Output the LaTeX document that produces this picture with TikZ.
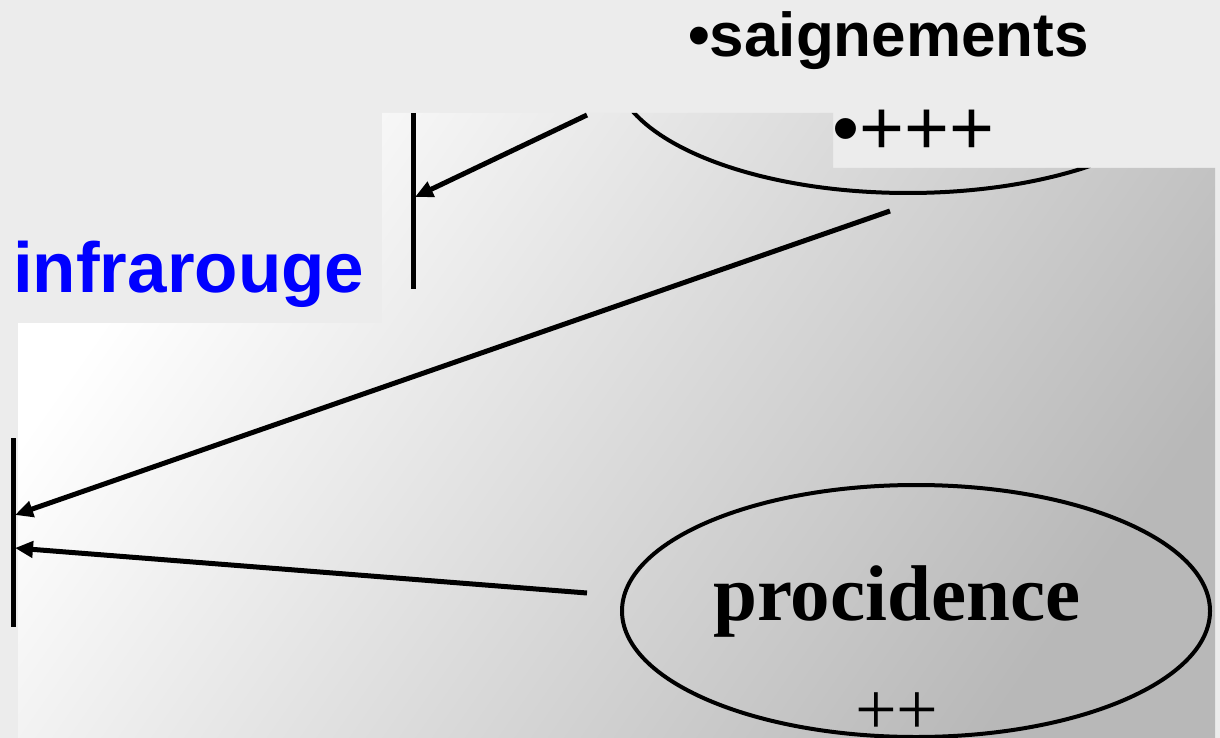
\documentclass[tikz,border=0pt]{standalone}
\usepackage{fontspec}
\newfontfamily\sansfnt{Liberation Sans}
\newfontfamily\seriffnt{Liberation Serif}
\usetikzlibrary{arrows.meta,shapes.geometric}
\definecolor{bg}{HTML}{ECECEC}
\definecolor{shlr}{HTML}{B8B8B8}
\definecolor{irblue}{HTML}{0000FF}
\tikzset{
  bar/.style={line width=5pt},
  conn/.style={line width=5pt,-{Triangle[length=18pt,width=16pt]}},
  oval/.style={draw,ellipse,line width=4pt,inner sep=0pt,minimum width=588pt,minimum height=252pt},
  lbl/.style={anchor=base west,inner sep=0pt},
}
\begin{document}
\begin{tikzpicture}[x=1pt,y=-1pt]
\useasboundingbox (0,0) rectangle (1220,738);
\fill[bg] (0,0) rectangle (1220,738);
\begin{scope}
  \clip (382,113) -- (833,113) -- (833,168) -- (1215,168) -- (1215,738) -- (18,738) -- (18,323) -- (382,323) -- cycle;
  \shade[left color=white, right color=shlr, shading angle=55] (18,113) rectangle (1215,738);
  \node[oval] (top) at (908,67) {};
\end{scope}
\node[oval] (proc) at (916,611) {};
% texts
\node[lbl,text=irblue,font=\sansfnt\bfseries\fontsize{71}{80}\selectfont] (infra) at (13,292) {infrarouge};
\node[lbl,font=\sansfnt\bfseries\fontsize{62}{70}\selectfont] (saig) at (688,57) {•saignements};
\node[lbl,font=\sansfnt\fontsize{77}{86}\selectfont] (ppp) at (832,155) {•+++};
\node[lbl,font=\seriffnt\bfseries\fontsize{79}{88}\selectfont] (proctext) at (713,620) {procidence};
\node[lbl,font=\seriffnt\fontsize{74}{82}\selectfont] (pp) at (855,734) {++};
% bars
\coordinate (b1t) at (413,113);
\coordinate (b1b) at (413,289);
\coordinate (b2t) at (13,438);
\coordinate (b2b) at (13,627);
\draw[bar] (b1t) -- (b1b);
\draw[bar] (b2t) -- (b2b);
% arrows
\coordinate (a1s) at (587,115);
\coordinate (a1e) at (415,197);
\coordinate (a2s) at (890,211);
\coordinate (a2e) at (15,515);
\coordinate (a3s) at (587,593);
\coordinate (a3e) at (15,548);
\draw[conn] (a1s) -- (a1e);
\draw[conn] (a2s) -- (a2e);
\draw[conn] (a3s) -- (a3e);
\end{tikzpicture}
\end{document}
